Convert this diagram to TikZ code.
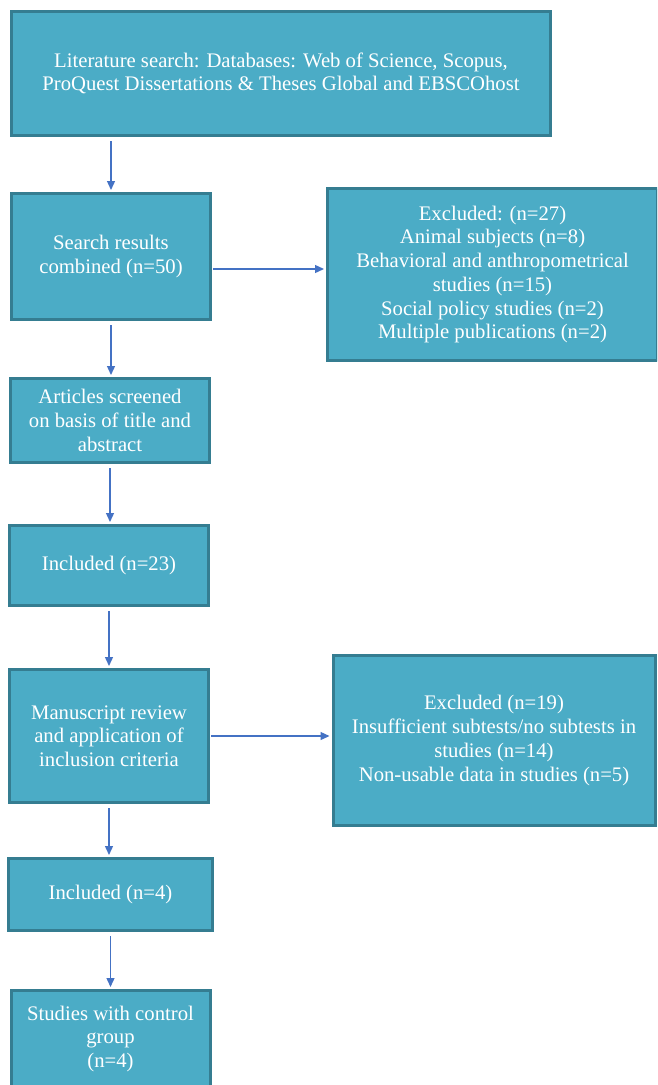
\documentclass[tikz,border=0pt]{standalone}
\usepackage{fontspec}
\setmainfont{Liberation Serif}
\usetikzlibrary{arrows.meta}

\definecolor{boxfill}{HTML}{4BACC6}
\definecolor{boxline}{HTML}{357D91}
\definecolor{flowblue}{HTML}{4472C4}

\tikzset{
    stage/.style={draw=boxline, fill=boxfill, line width=3pt, text=white, align=center,
        inner sep=0pt, font=\fontsize{20.7}{23.7}\selectfont},
    leftstage/.style={stage, minimum width=199pt},
    flow/.style={draw=flowblue, line width=1.3pt, -{Triangle[length=9pt,width=8pt]},
        shorten <=4pt, shorten >=2pt}
}

\begin{document}
\begin{tikzpicture}[x=1pt,y=-1pt]
    \useasboundingbox (0,0) rectangle (657,1085);
    \clip (0,0) rectangle (657,1085);

    % main column
    \node[stage, minimum width=539pt, minimum height=124pt] (search) at (281,73.5)
        {Literature search: Databases: Web of Science, Scopus,\\ProQuest Dissertations \& Theses Global and EBSCOhost};
    \node[leftstage, minimum height=126pt] (combined) at (111,256.5) {Search results\\combined (n=50)};
    \node[leftstage, minimum height=84pt] (screened) at (110,420.5) {Articles screened\\on basis of title and\\abstract};
    \node[leftstage, minimum height=80pt] (incl1) at (109,565.5) {Included (n=23)};
    \node[leftstage, minimum height=133pt] (review) at (109,736) {Manuscript review\\and application of\\inclusion criteria};
    \node[leftstage, minimum height=72pt, minimum width=204pt] (incl2) at (110.5,894.5) {Included (n=4)};
    \node[leftstage, minimum height=97pt] (control) at (110.5,1039) {Studies with control\\group\\(n=4)};

    % exclusions
    \node[stage, minimum width=330pt, minimum height=172pt] (excl1) at (492.5,274.5)
        {Excluded: (n=27)\\Animal subjects (n=8)\\Behavioral and anthropometrical\\studies (n=15)\\Social policy studies (n=2)\\Multiple publications (n=2)};
    \node[stage, minimum width=322pt, minimum height=170pt] (excl2) at (494,740.5)
        {Excluded (n=19)\\Insufficient subtests/no subtests in\\studies (n=14)\\Non-usable data in studies (n=5)};

    % arrows down
    \draw[flow] (combined.north |- search.south) -- (combined.north);
    \draw[flow] (combined.south) -- (combined.south |- screened.north);
    \draw[flow] (screened.south) -- (screened.south |- incl1.north);
    \draw[flow] (incl1.south) -- (incl1.south |- review.north);
    \draw[flow] (review.south) -- (review.south |- incl2.north);
    \draw[flow] (incl2.south) -- (incl2.south |- control.north);

    % arrows right
    \draw[flow, shorten <=1pt] ([yshift=-12.5pt]combined.east) -- ([yshift=-12.5pt]combined.east -| excl1.west);
    \draw[flow, shorten <=1pt] (review.east) -- (review.east -| excl2.west);
\end{tikzpicture}
\end{document}
